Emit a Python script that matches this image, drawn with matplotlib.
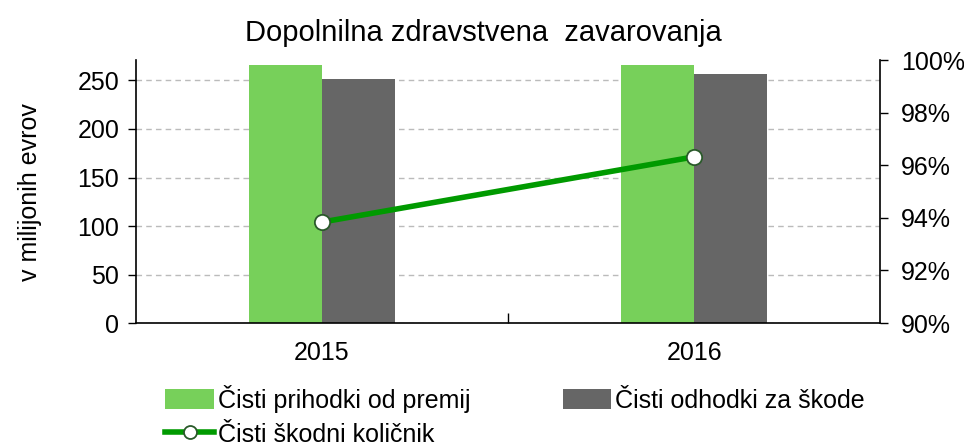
import matplotlib.pyplot as plt
import numpy as np

plt.rcParams['font.family'] = ['Liberation Sans', 'DejaVu Sans']

years = ['2015', '2016']
premije = [266, 266]
skode = [251, 257]
kolicnik = [93.84, 96.32]

green = '#77d05a'
gray = '#666666'
line_green = '#009a00'

fig = plt.figure(figsize=(9.64, 4.45), dpi=100)
ax = fig.add_axes([0.141, 0.274, 0.772, 0.591])
x = np.arange(len(years))
w = 0.197

b1 = ax.bar(x - w / 2, premije, w, color=green, zorder=2)
b2 = ax.bar(x + w / 2, skode, w, color=gray, zorder=2)
ax.set_xlim(-0.5, 1.5)
ax.set_ylim(0, 271)
ax.set_yticks([0, 50, 100, 150, 200, 250])
ax.yaxis.grid(True, linestyle=(0, (4, 3)), color='#bbbbbb', lw=1)
ax.set_axisbelow(True)
ax.set_xticks(x)
ax.set_xticklabels(years)
ax.set_xticks([0.5], minor=True)
ax.tick_params(axis='x', which='major', length=0, pad=13, labelsize=18)
ax.tick_params(axis='x', which='minor', direction='in', length=7, width=1)
ax.tick_params(axis='y', direction='out', length=6, width=1, labelsize=18, pad=6)
ax.spines['top'].set_visible(False)
ax.spines['right'].set_visible(False)
for s in ['left', 'bottom']:
    ax.spines[s].set_linewidth(1.2)
ax.set_ylabel('v milijonih evrov', fontsize=18)
ax.yaxis.set_label_coords(-0.126, 0.5)
fig.suptitle('Dopolnilna zdravstvena  zavarovanja', fontsize=21, x=0.501, y=0.957)

ax2 = ax.twinx()
ln, = ax2.plot(x, kolicnik, color=line_green, lw=4, marker='o', markersize=11,
               markerfacecolor='white', markeredgecolor='#2a5a2a', markeredgewidth=1.3, zorder=3)
ax2.set_ylim(90, 100)
ax2.set_yticks([90, 92, 94, 96, 98, 100])
ax2.set_yticklabels([f'{v}%' for v in [90, 92, 94, 96, 98, 100]])
ax2.tick_params(axis='y', direction='out', length=6, width=1, labelsize=18, pad=9)
ax2.spines['top'].set_visible(False)
ax2.spines['left'].set_visible(False)
ax2.spines['bottom'].set_visible(False)
ax2.spines['right'].set_linewidth(1.2)

leg = fig.legend([b1, ln, b2],
                 ['Čisti prihodki od premij', 'Čisti škodni količnik', 'Čisti odhodki za škode'],
                 ncol=2, loc='upper left', bbox_to_anchor=(0.161, 0.158), frameon=False,
                 fontsize=18, handlelength=1.95, handleheight=0.85, handletextpad=0.15,
                 columnspacing=3.7, labelspacing=0.4, borderaxespad=0, markerscale=0.85)

fig.savefig('out.png', dpi=100)
